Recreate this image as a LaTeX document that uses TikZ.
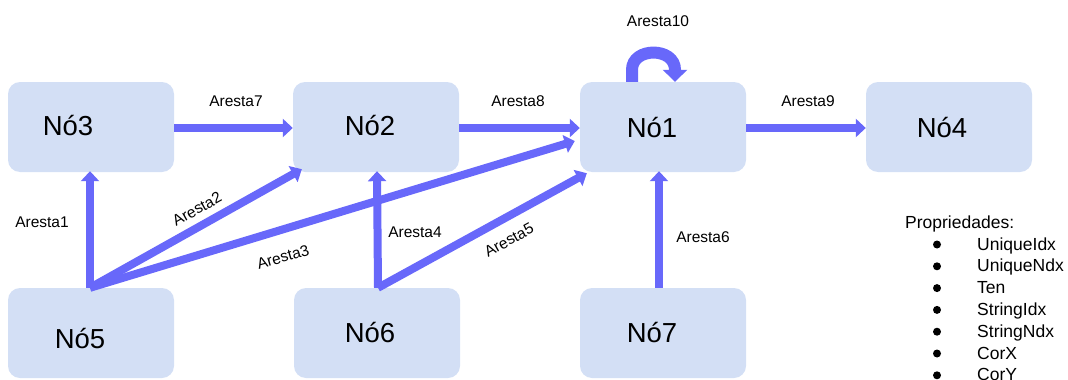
\documentclass[tikz,border=0pt]{standalone}
\usepackage{fontspec}
\setmainfont{Liberation Sans}
\usetikzlibrary{arrows.meta,calc}
\definecolor{boxfill}{RGB}{211,223,245}
\definecolor{edgeblue}{RGB}{104,104,250}
\begin{document}
\begin{tikzpicture}[x=1pt,y=-1pt,
  nodebox/.style={fill=boxfill, rounded corners=12pt, minimum width=166pt,
    minimum height=90pt, inner sep=0pt},
  nodetext/.style={font=\fontsize{27.5}{30}\selectfont, inner sep=0pt, anchor=base},
  edgelabel/.style={font=\fontsize{15.5}{18}\selectfont, inner sep=0pt, anchor=base},
  slopedlabel/.style={font=\fontsize{15.5}{18}\selectfont, inner sep=0pt},
  proptext/.style={font=\fontsize{17.5}{20}\selectfont, inner sep=0pt, anchor=base west},
  bulletdot/.style={circle, fill=black, minimum size=8pt, inner sep=0pt},
  link/.style={draw=edgeblue, line width=8pt, -{Triangle[length=10pt,width=18pt]}},
  loopl/.style={draw=edgeblue, line width=12pt, -{Triangle[length=12pt,width=24pt]}},
]
\useasboundingbox (0,0) rectangle (1068,380);

% boxes
\node[nodebox] (b3) at (91,127) {};
\node[nodebox] (b2) at (376,127) {};
\node[nodebox] (b1) at (663,127) {};
\node[nodebox] (b4) at (949,127) {};
\node[nodebox] (b5) at (91,333) {};
\node[nodebox] (b6) at (377,333) {};
\node[nodebox] (b7) at (663,333) {};

% box captions
\node[nodetext] (t3) at (68,135) {Nó3};
\node[nodetext] (t2) at (370,135) {Nó2};
\node[nodetext] (t1) at (652,137) {Nó1};
\node[nodetext] (t4) at (942,137) {Nó4};
\node[nodetext] (t5) at (80,348) {Nó5};
\node[nodetext] (t6) at (370,342) {Nó6};
\node[nodetext] (t7) at (652,342) {Nó7};

% edge end points
\coordinate (s5) at ($(b5.north)+(-1,0)$);
\coordinate (s6) at ($(b6.north)+(1,0)$);
\coordinate (s7) at ($(b7.north)+(-4,0)$);
\coordinate (e3) at ($(b3.south)+(-1,-1)$);
\coordinate (e2a) at ($(b2.south west)+(9,-3)$);
\coordinate (e2b) at ($(b2.south)+(1,-1)$);
\coordinate (e1a) at ($(b1.west)+(-5,14)$);
\coordinate (e1b) at ($(b1.south west)+(7,1)$);
\coordinate (e1c) at ($(b1.south)+(-4,-1)$);
\coordinate (la) at ($(b1.north)+(-31,0)$);
\coordinate (lb) at ($(b1.north)+(12,0)$);

% edges
\draw[link] (b3.east |- 0,128) -- (b2.west |- 0,128);
\draw[link] (b2.east |- 0,128) -- (b1.west |- 0,128);
\draw[link] (b1.east |- 0,128) -- (b4.west |- 0,128);
\draw[link] (s5) -- (e3);
\draw[link] (s5) -- (e2a);
\draw[link] (s5) -- (e1a);
\draw[link] (s6) -- (e2b);
\draw[link] (s6) -- (e1b);
\draw[link] (s7) -- (e1c);
\draw[loopl] (la) -- ++(0,-12) .. controls ++(0,-23) and ($(lb)+(0,-35)$) .. ($(lb)+(0,-12)$) -- (lb);

% edge labels
\node[edgelabel] (a7) at (236,106) {Aresta7};
\node[edgelabel] (a8) at (518,106) {Aresta8};
\node[edgelabel] (a9) at (808,106) {Aresta9};
\node[edgelabel] (a10) at (658,26) {Aresta10};
\node[edgelabel] (a1) at (42,227) {Aresta1};
\node[edgelabel] (a4) at (415,237) {Aresta4};
\node[edgelabel] (a6) at (703,242) {Aresta6};
\node[slopedlabel, rotate=29] (a2) at (197,209) {Aresta2};
\node[slopedlabel, rotate=16] (a3) at (283,257) {Aresta3};
\node[slopedlabel, rotate=29] (a5) at (509,240) {Aresta5};

% property list
\node[proptext] (ph) at (905,228) {Propriedades:};
\foreach \name [count=\i] in {UniqueIdx,UniqueNdx,Ten,StringIdx,StringNdx,CorX,CorY} {
  \node[bulletdot] (d\i) at (937,{250+21.8*(\i-1)-5.5}) {};
  \node[proptext] (p\i) at (977,{250+21.8*(\i-1)}) {\name};
}
\end{tikzpicture}
\end{document}
